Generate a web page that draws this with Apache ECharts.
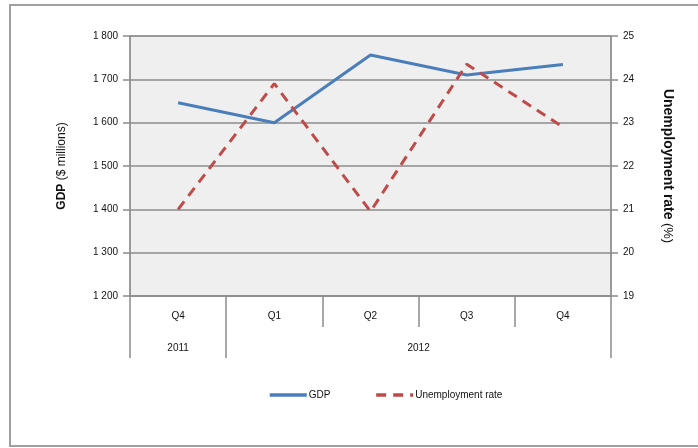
<!DOCTYPE html>
<html lang="en">
<head>
<meta charset="UTF-8">
<style>
    html, body { margin: 0; height: 100%; background: #fff; }
    #chart { width: 698px; height: 448px; }
</style>
</head>
<body>
<div id="chart"></div>
<script src="https://cdn.jsdelivr.net/npm/echarts@6/dist/echarts.min.js"></script>
<script>
    // data
    var quarters = ['Q4', 'Q1', 'Q2', 'Q3', 'Q4'];
    var years = ['2011', '2012'];
    var yearTicks = [0, 1, 5];      // group boundaries on the quarter axis
    var yearCentres = [0.5, 3];
    var gdp = [1646, 1600, 1756, 1710, 1734];
    var unemployment = [21.0, 23.9, 20.95, 24.35, 22.9];

    var grey = '#8c8c8c';
    var txt = '#111';
    var font = 'Liberation Sans, Arial, sans-serif';

    var myChart = echarts.init(document.getElementById('chart'));
    myChart.setOption({
        animation: false,
        textStyle: { fontFamily: font },
        graphic: [{
            type: 'rect',
            shape: { x: 10, y: 5, width: 720, height: 441 },
            style: { fill: 'none', stroke: '#a0a0a0', lineWidth: 2 },
            silent: true
        }],
        grid: {
            left: 130, right: 87, top: 36, bottom: 152,
            show: true, backgroundColor: '#efefef', borderColor: grey, borderWidth: 1
        },
        legend: {
            top: 385, left: 263,
            itemWidth: 37, itemHeight: 8, itemGap: 44,
            itemStyle: { opacity: 0 },
            lineStyle: { width: 3.5 },
            textStyle: { fontSize: 10, color: txt, padding: [0, 0, 0, -3] },
            data: ['GDP', 'Unemployment rate']
        },
        xAxis: [{
            type: 'category',
            data: quarters,
            boundaryGap: true,
            axisLine: { lineStyle: { color: grey, width: 1.5 } },
            axisTick: { show: true, length: 31, interval: 0, lineStyle: { color: grey, width: 1.5 } },
            axisLabel: { margin: 15, fontSize: 10, color: txt, interval: 0 },
            splitLine: { show: false }
        }, {
            type: 'value',
            min: 0, max: 5,
            position: 'bottom',
            offset: 31,
            axisLine: { show: false },
            axisTick: { show: true, customValues: yearTicks, length: 31, lineStyle: { color: grey, width: 1.5 } },
            axisLabel: {
                customValues: yearCentres, margin: 16, fontSize: 10, color: txt,
                formatter: function (v) { return years[yearCentres.indexOf(v)]; }
            },
            splitLine: { show: false }
        }],
        yAxis: [{
            type: 'value',
            min: 1200, max: 1800, interval: 100,
            name: '{b|GDP} {n|($ millions)}',
            nameLocation: 'middle',
            nameGap: 62,
            nameTextStyle: {
                rich: {
                    b: { fontSize: 12, fontWeight: 'bold', color: '#111' },
                    n: { fontSize: 12, color: '#111' }
                }
            },
            axisLine: { show: true, lineStyle: { color: grey, width: 1.5 } },
            axisTick: { show: true, length: 7, lineStyle: { color: grey, width: 1.5 } },
            axisLabel: {
                margin: 12, fontSize: 10, color: txt,
                formatter: function (v) { return String(v).replace(/^(\d)(\d{3})$/, '$1 $2'); }
            },
            splitLine: { show: true, lineStyle: { color: grey, width: 1.5 } }
        }, {
            type: 'value',
            min: 19, max: 25, interval: 1,
            position: 'right',
            name: '{b|Unemployment rate} {n|(%)}',
            nameLocation: 'middle',
            nameGap: 50,
            nameRotate: -90,
            nameTextStyle: {
                rich: {
                    b: { fontSize: 14, fontWeight: 'bold', color: '#111' },
                    n: { fontSize: 13, color: '#111' }
                }
            },
            axisLine: { show: true, lineStyle: { color: grey, width: 1.5 } },
            axisTick: { show: true, length: 7, lineStyle: { color: grey, width: 1.5 } },
            axisLabel: { margin: 12, fontSize: 10, color: txt },
            splitLine: { show: false }
        }],
        series: [{
            name: 'GDP',
            type: 'line',
            data: gdp,
            xAxisIndex: 0,
            yAxisIndex: 0,
            symbol: 'none',
            lineStyle: { color: '#4a7ebb', width: 3 },
            itemStyle: { color: '#4a7ebb' }
        }, {
            name: 'Unemployment rate',
            type: 'line',
            data: unemployment,
            xAxisIndex: 0,
            yAxisIndex: 1,
            symbol: 'none',
            lineStyle: { color: '#be4b48', width: 3, type: [10, 7] },
            itemStyle: { color: '#be4b48' }
        }]
    });
</script>
</body>
</html>
